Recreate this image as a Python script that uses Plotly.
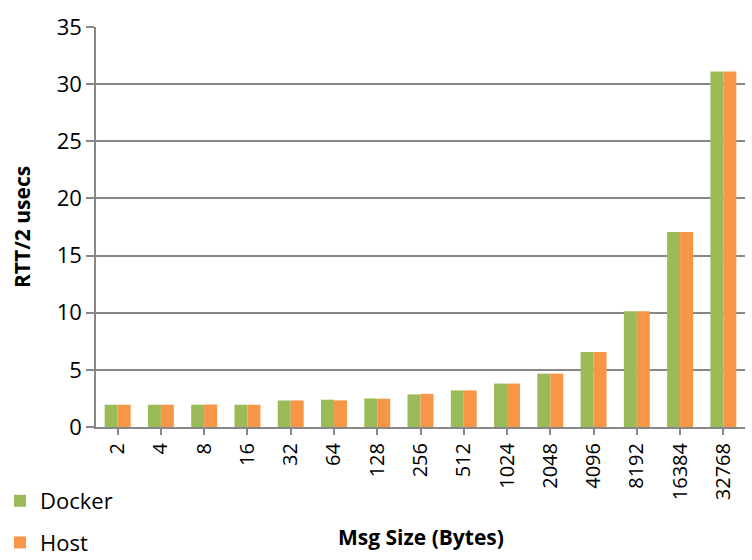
import plotly.graph_objects as go

categories = ["2", "4", "8", "16", "32", "64", "128", "256", "512", "1024",
              "2048", "4096", "8192", "16384", "32768"]
docker = [1.95, 1.95, 1.95, 1.95, 2.32, 2.39, 2.50, 2.85, 3.20, 3.80,
          4.67, 6.56, 10.12, 17.06, 31.10]
host = [1.95, 1.95, 1.97, 1.95, 2.32, 2.33, 2.47, 2.90, 3.20, 3.80,
        4.67, 6.56, 10.12, 17.06, 31.10]
y_ticks = [0, 5, 10, 15, 20, 25, 30, 35]

FONT = "Open Sans"
GRID = "#878787"
W, H = 752, 560
L, R, T, B = 96, 7, 27, 133
PW, PH = W - L - R, H - T - B

fig = go.Figure()
fig.add_trace(go.Bar(x=categories, y=docker, name="Docker",
                     marker=dict(color="#9BBB59", line=dict(width=0)),
                     legendgroup="d"))
fig.add_trace(go.Bar(x=categories, y=host, name="Host",
                     marker=dict(color="#F79646", line=dict(width=0)),
                     legendgroup="h"))

fig.update_layout(
    width=W, height=H,
    margin=dict(l=L, r=R, t=T, b=B, autoexpand=False),
    plot_bgcolor="white", paper_bgcolor="white",
    barmode="group", bargap=0.4, bargroupgap=0,
    font=dict(family=FONT, size=19, color="#000000"),
    showlegend=True,
    legend=dict(xref="container", yref="container", x=0.0, y=1 - 480 / H,
                xanchor="left", yanchor="top", orientation="v",
                font=dict(size=22, family=FONT), tracegroupgap=10,
                itemwidth=30, bgcolor="rgba(0,0,0,0)"),
    xaxis=dict(
        type="category", tickangle=-90, showgrid=False, automargin=False,
        showline=True, linecolor=GRID, linewidth=2,
        ticks="outside", ticklen=6, tickcolor=GRID, tickwidth=1.5,
        tickfont=dict(size=20, family=FONT),
    ),
    yaxis=dict(
        range=[0, 35], tickvals=y_ticks, showgrid=True, gridcolor=GRID, gridwidth=1.5,
        showline=True, linecolor=GRID, linewidth=1.5, zeroline=False, automargin=False,
        ticks="outside", ticklen=8, tickcolor=GRID, tickwidth=1.5,
        tickfont=dict(size=22, family=FONT),
    ),
    annotations=[
        dict(text="<b>Msg Size (Bytes)</b>", xref="paper", yref="paper",
             x=0.5, y=(T + PH - 537) / PH, xanchor="center", yanchor="middle",
             showarrow=False, font=dict(size=21, family=FONT)),
        dict(text="<b>RTT/2 usecs</b>", xref="paper", yref="paper",
             x=(22 - L) / PW, y=0.5, xanchor="center", yanchor="middle", textangle=-90,
             showarrow=False, font=dict(size=21, family=FONT)),
    ],
)

fig.write_html("out.html")
